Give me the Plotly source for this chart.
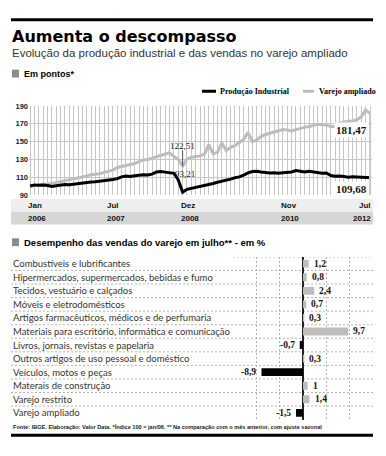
import plotly.graph_objects as go

W, H = 386, 456
def px(x): return x / W
def py(y): return 1 - y / H

# ---------------- data: line chart (index, Jan/2006 = 100) ----------------
meses = list(range(79))  # Jan/2006 .. Jul/2012
producao = [100.3, 101.5, 101.0, 101.5, 100.8, 99.8, 100.5, 101.5, 102.0, 101.8,
            102.5, 103.0, 103.5, 104.0, 104.8, 105.0, 105.5, 106.5, 106.8, 107.5,
            108.5, 110.5, 111.5, 111.0, 111.8, 112.5, 113.0, 112.5, 113.5, 116.0,
            116.5, 115.8, 115.5, 114.5, 107.0, 93.21, 96.5, 97.5, 98.5, 99.5,
            101.0, 102.0, 103.0, 104.5, 105.5, 107.0, 108.0, 109.5, 110.5, 112.5,
            115.0, 116.5, 116.8, 116.0, 115.0, 114.8, 115.2, 114.5, 115.0, 115.5,
            116.0, 117.5, 117.0, 116.0, 116.8, 115.8, 115.0, 114.5, 114.8, 112.0,
            111.2, 111.5, 110.8, 110.2, 110.5, 110.0, 110.3, 109.8, 109.68]
varejo = [100.0, 100.8, 101.5, 102.0, 102.5, 103.0, 104.0, 105.0, 106.0, 107.0,
          108.0, 109.0, 110.0, 111.5, 113.0, 113.5, 114.0, 115.5, 116.5, 118.0,
          121.0, 122.0, 123.0, 124.5, 125.5, 127.5, 129.5, 130.0, 131.5, 133.0,
          134.5, 136.0, 137.5, 133.5, 130.0, 122.51, 130.5, 132.5, 133.0, 134.0,
          136.0, 146.5, 136.5, 138.0, 148.5, 140.0, 143.5, 145.5, 149.0, 152.5,
          160.5, 150.0, 152.0, 156.0, 158.0, 159.5, 161.0, 162.0, 163.5, 163.0,
          162.0, 163.5, 165.0, 166.0, 167.0, 168.5, 169.5, 169.0, 168.5, 167.0,
          167.0, 170.5, 172.0, 172.5, 173.0, 174.5, 178.0, 185.5, 181.47]
y_ticks = [90, 110, 130, 150, 170, 190]
rotulo_idx = [0, 18, 35, 58, 78]
rotulo_mes = ["Jan", "Jul", "Dez", "Nov", "Jul"]
rotulo_ano = ["2006", "2007", "2008", "2010", "2012"]

# ---------------- data: bar chart (% vs previous month) ----------------
categorias = ["Combustíveis e lubrificantes",
              "Hipermercados, supermercados, bebidas e fumo",
              "Tecidos, vestuário e calçados",
              "Móveis e eletrodomésticos",
              "Artigos farmacêuticos, médicos e de perfumaria",
              "Materiais para escritório, informática e comunicação",
              "Livros, jornais, revistas e papelaria",
              "Outros artigos de uso pessoal e doméstico",
              "Veículos, motos e peças",
              "Materais de construção",
              "Varejo restrito",
              "Varejo ampliado"]
valores = [1.2, 0.8, 2.4, 0.7, 0.3, 9.7, -0.7, 0.3, -8.9, 1, 1.4, -1.5]

SANS = "Liberation Sans, Arial, sans-serif"
SERIF = "Liberation Serif, Times New Roman, serif"
LIGHT = "Lato, Liberation Sans, sans-serif"
GRAY_LINE = "#bdbdbd"
GRID = "#c6c6c6"

fig = go.Figure()
fig.add_trace(go.Scatter(x=meses, y=varejo, mode="lines", line=dict(color=GRAY_LINE, width=3),
                         xaxis="x", yaxis="y", hoverinfo="skip", showlegend=False))
fig.add_trace(go.Scatter(x=meses, y=producao, mode="lines", line=dict(color="#000000", width=3),
                         xaxis="x", yaxis="y", hoverinfo="skip", showlegend=False))

cores = [GRAY_LINE if v > 0 else "#000000" for v in valores]
fig.add_trace(go.Bar(x=valores, y=categorias, orientation="h", marker=dict(color=cores, line=dict(width=0)),
                     width=0.58, xaxis="x2", yaxis="y2", hoverinfo="skip", showlegend=False))

shapes = []
annotations = []

# top and bottom rules
shapes.append(dict(type="line", xref="paper", yref="paper", x0=px(11), x1=px(373), y0=py(16), y1=py(16),
                   line=dict(color="#000", width=3)))
shapes.append(dict(type="line", xref="paper", yref="paper", x0=px(11), x1=px(373), y0=py(440), y1=py(440),
                   line=dict(color="#000", width=3)))

# title block
annotations.append(dict(text="<b>Aumenta o descompasso</b>", x=px(10), y=py(33), xref="paper", yref="paper",
                        xanchor="left", yanchor="middle", showarrow=False,
                        font=dict(family="DejaVu Sans, sans-serif", size=16, color="#000")))
annotations.append(dict(text="Evolução da produção industrial e das vendas no varejo ampliado", x=px(10), y=py(50),
                        xref="paper", yref="paper", xanchor="left", yanchor="middle", showarrow=False,
                        font=dict(family=SANS, size=11.5, color="#333")))
# section 1 header
shapes.append(dict(type="rect", xref="paper", yref="paper", x0=px(12), x1=px(19), y0=py(75), y1=py(67),
                   fillcolor="#8c8c8c", line=dict(width=0)))
annotations.append(dict(text="<b>Em pontos*</b>", x=px(22), y=py(71), xref="paper", yref="paper",
                        xanchor="left", yanchor="middle", showarrow=False,
                        font=dict(family=SANS, size=9, color="#000")))
# legend
shapes.append(dict(type="line", xref="paper", yref="paper", x0=px(202), x1=px(216), y0=py(89), y1=py(89),
                   line=dict(color="#000", width=3)))
annotations.append(dict(text="<b>Produção Industrial</b>", x=px(218), y=py(89), xref="paper", yref="paper",
                        xanchor="left", yanchor="middle", showarrow=False,
                        font=dict(family=SERIF, size=8, color="#000")))
shapes.append(dict(type="line", xref="paper", yref="paper", x0=px(303), x1=px(314), y0=py(89), y1=py(89),
                   line=dict(color=GRAY_LINE, width=3)))
annotations.append(dict(text="<b>Varejo ampliado</b>", x=px(317), y=py(89), xref="paper", yref="paper",
                        xanchor="left", yanchor="middle", showarrow=False,
                        font=dict(family=SERIF, size=8, color="#000")))

# time band
shapes.append(dict(type="rect", xref="paper", yref="paper", x0=px(11), x1=px(373), y0=py(212), y1=py(199),
                   fillcolor="#eeeeee", line=dict(width=0), layer="below"))
shapes.append(dict(type="rect", xref="paper", yref="paper", x0=px(11), x1=px(373), y0=py(225), y1=py(212),
                   fillcolor="#d6d6d6", line=dict(width=0), layer="below"))
for i, (m, a, idx) in enumerate(zip(rotulo_mes, rotulo_ano, rotulo_idx)):
    last = i == len(rotulo_idx) - 1
    for txt, yy in ((m, 206), (a, 219)):
        annotations.append(dict(text="<b>" + txt + "</b>", x=idx, xref="x", y=py(yy), yref="paper",
                                xanchor="right" if last else "left", yanchor="middle",
                                xshift=3 if last else -4, showarrow=False,
                                font=dict(family=SANS, size=8, color="#111")))

# point labels on the line chart
i_min = producao.index(min(producao))
shapes.append(dict(type="line", xref="x", yref="y", x0=i_min, x1=i_min, y0=varejo[i_min], y1=140,
                   line=dict(color="#555", width=1)))
annotations.append(dict(text=f"{varejo[i_min]:.2f}".replace(".", ","), x=i_min, y=145, xref="x", yref="y",
                        xanchor="center", yanchor="middle", showarrow=False,
                        font=dict(family=SERIF, size=9, color="#222")))
annotations.append(dict(text=f"{producao[i_min]:.2f}".replace(".", ","), x=i_min, y=114, xref="x", yref="y",
                        xanchor="center", yanchor="middle", xshift=2, showarrow=False,
                        font=dict(family=SERIF, size=9, color="#222")))
last = meses[-1]
shapes.append(dict(type="line", xref="x", yref="y", x0=last, x1=last, y0=90, y1=varejo[-1],
                   line=dict(color="#c8c8c8", width=2)))
annotations.append(dict(text="<b>" + f"{varejo[-1]:.2f}".replace(".", ",") + "</b>", x=last, y=163.5,
                        xref="x", yref="y", xanchor="right", yanchor="middle", xshift=-1, showarrow=False,
                        bgcolor="#ffffff", font=dict(family=SERIF, size=11, color="#111")))
annotations.append(dict(text="<b>" + f"{producao[-1]:.2f}".replace(".", ",") + "</b>", x=last, y=96.6,
                        xref="x", yref="y", xanchor="right", yanchor="middle", xshift=-1, showarrow=False,
                        bgcolor="#ffffff", font=dict(family=SERIF, size=11, color="#111")))

# section 2 header
shapes.append(dict(type="rect", xref="paper", yref="paper", x0=px(12), x1=px(19), y0=py(247), y1=py(239),
                   fillcolor="#8c8c8c", line=dict(width=0)))
annotations.append(dict(text="<b>Desempenho das vendas do varejo em julho** - em %</b>", x=px(22), y=py(243),
                        xref="paper", yref="paper", xanchor="left", yanchor="middle", showarrow=False,
                        font=dict(family=SANS, size=9.5, color="#000")))

# bar chart rows
n = len(categorias)
for i in range(n - 1):
    shapes.append(dict(type="line", xref="paper", yref="y2", x0=px(11), x1=px(373), y0=i + 0.5, y1=i + 0.5,
                       line=dict(color="#b5b5b5", width=1, dash="2px,2px"), layer="below"))
shapes.append(dict(type="line", xref="paper", yref="y2", x0=px(233), x1=px(373), y0=-0.5, y1=-0.5,
                   line=dict(color="#b5b5b5", width=1, dash="2px,2px"), layer="below"))
for c in categorias:
    annotations.append(dict(text=c, x=px(11), y=c, xref="paper", yref="y2", xanchor="left", yanchor="middle",
                            showarrow=False, font=dict(family=LIGHT, size=9.5, color="#333")))
for c, v in zip(categorias, valores):
    annotations.append(dict(text="<b>" + str(v).replace(".", ",") + "</b>", x=v, y=c, xref="x2", yref="y2",
                            xanchor="left" if v > 0 else "right", xshift=3 if v > 0 else -3,
                            yanchor="middle", showarrow=False,
                            font=dict(family=SERIF, size=9.5, color="#111")))

# footer
annotations.append(dict(text="<b>Fonte: IBGE. Elaboração: Valor Data. *Índice 100 = jan/06. ** Na comparação com o mês anterior, com ajuste sazonal</b>",
                        x=px(11), y=py(431), xref="paper", yref="paper", xanchor="left", yanchor="middle",
                        showarrow=False, font=dict(family=SANS, size=5.6, color="#222")))

fig.update_layout(
    width=W, height=H, autosize=False,
    margin=dict(l=0, r=0, t=0, b=0),
    paper_bgcolor="#ffffff", plot_bgcolor="#ffffff",
    showlegend=False,
    xaxis=dict(domain=[px(29), px(372)], range=[-0.25, 78.45], tick0=0, dtick=1,
               showgrid=True, gridcolor=GRID, gridwidth=1, showticklabels=False,
               zeroline=False, showline=False, ticks="", fixedrange=True),
    yaxis=dict(domain=[py(195), py(104)], range=[90, 190], tickvals=y_ticks,
               showgrid=True, gridcolor=GRID, gridwidth=1, zeroline=False, showline=False,
               ticks="", tickfont=dict(family=SANS, size=7.5, color="#222", weight="bold"),
               fixedrange=True),
    xaxis2=dict(domain=[px(233), px(373)], range=[-15, 15], anchor="y2",
                tickvals=[-15, -10, -5, 0, 5, 10, 15], showticklabels=False, ticks="",
                showgrid=True, gridcolor="#b5b5b5", griddash="2px,2px", gridwidth=1,
                zeroline=True, zerolinecolor="#222", zerolinewidth=1.5, showline=False, fixedrange=True),
    yaxis2=dict(domain=[py(424), py(258)], anchor="x2", type="category",
                categoryorder="array", categoryarray=categorias, range=[n - 0.5, -0.5],
                showticklabels=False, showgrid=False, zeroline=False, ticks="", fixedrange=True),
    shapes=shapes,
    annotations=annotations,
)

fig.write_html("out.html", config={"displayModeBar": False, "staticPlot": True},
               post_script="document.body.style.margin='0';document.body.style.overflow='hidden';")
